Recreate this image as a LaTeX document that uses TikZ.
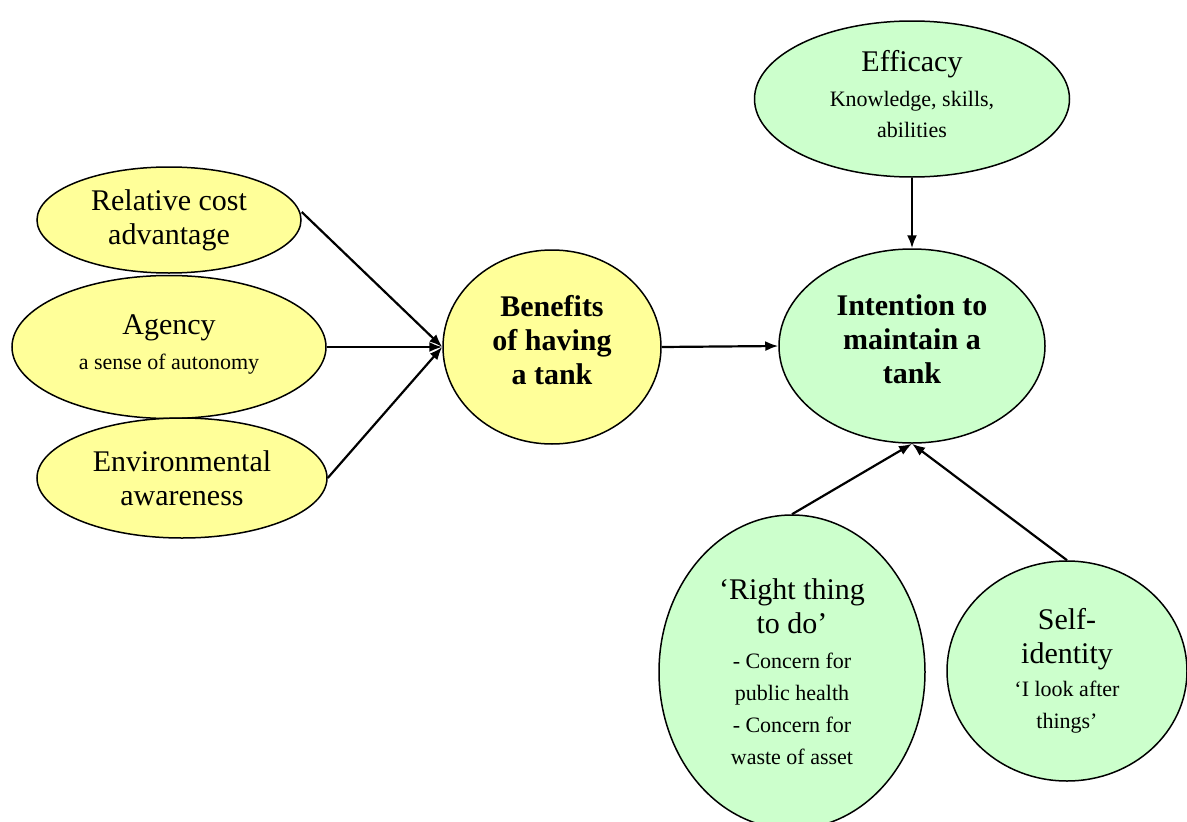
\documentclass[tikz,border=0pt]{standalone}
\usepackage{fontspec}
\setmainfont{Liberation Serif}
\usetikzlibrary{shapes.geometric,arrows.meta}
\definecolor{yel}{HTML}{FFFF99}
\definecolor{grn}{HTML}{CCFFCC}
\newcommand{\bigf}{\fontsize{30}{34}\selectfont}
\newcommand{\smf}{\fontsize{22}{34}\selectfont}
\begin{document}
\begin{tikzpicture}[x=1pt,y=-1pt,
  ell/.style={ellipse,draw=black,line width=1.5pt,inner sep=0pt,align=center,font=\bigf},
  yb/.style={ell,fill=yel},
  gb/.style={ell,fill=grn},
  arr/.style={line width=2.2pt,-{Latex[length=13pt,width=10pt]}}]
\useasboundingbox (0,0) rectangle (1187,822);
\node[yb,minimum width=264,minimum height=106] (rel) at (169,220) {Relative cost\\advantage};
\node[yb,minimum width=314,minimum height=143,text depth=10pt] (agy) at (169,347) {Agency\\[1pt]{\smf a sense of autonomy}};
\node[yb,minimum width=290,minimum height=120] (env) at (182,478) {Environmental\\awareness};
\node[yb,minimum width=218,minimum height=194,text depth=14pt] (ben) at (552,347) {\bfseries Benefits\\\bfseries of having\\\bfseries a tank};
\node[gb,minimum width=266,minimum height=194,text depth=14pt] (int) at (912,346) {\bfseries Intention to\\\bfseries maintain a\\\bfseries tank};
\node[gb,minimum width=315,minimum height=156,text depth=10pt] (eff) at (912,99) {Efficacy\\[1pt]{\smf Knowledge, skills,}\\[-3pt]{\smf abilities}};
\node[gb,minimum width=266,minimum height=314] (rtd) at (792,672) {‘Right thing\\to do’\\[1pt]{\smf - Concern for}\\[-2pt]{\smf public health}\\[-2pt]{\smf - Concern for}\\[-2pt]{\smf waste of asset}};
\node[gb,minimum width=240,minimum height=220] (sid) at (1067,671) {Self-\\identity\\[-1pt]{\smf ‘I look after}\\[-2pt]{\smf things’}};
\coordinate (bw) at (ben.west);
\draw[arr] (rel.east) ++(0,-8) -- (bw);
\draw[arr] (agy.east) -- (bw);
\draw[arr] (env.east) -- (bw);
\draw[arr] (ben.east) -- (int.west);
\draw[arr] (eff.south) -- (int.north);
\draw[arr] (rtd.north) -- (int.south);
\draw[arr] (sid.north) -- (int.south);
\end{tikzpicture}
\end{document}
